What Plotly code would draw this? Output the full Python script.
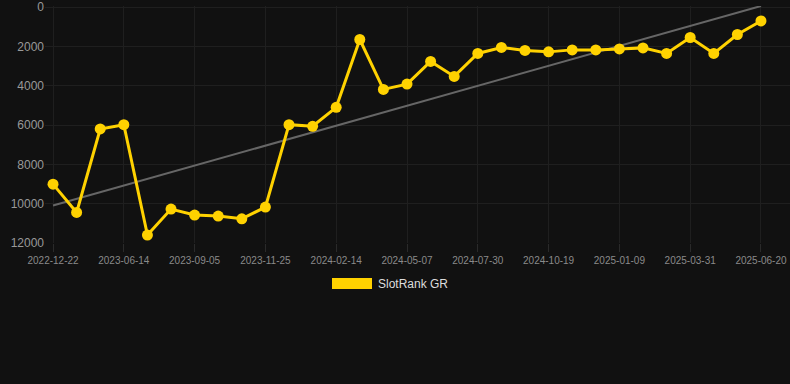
import plotly.graph_objects as go

dates = [
    "2022-12-22", "2023-02-20", "2023-04-17", "2023-06-14", "2023-07-12",
    "2023-08-08", "2023-09-05", "2023-10-02", "2023-10-29", "2023-11-25",
    "2023-12-22", "2024-01-18", "2024-02-14", "2024-03-12", "2024-04-09",
    "2024-05-07", "2024-06-04", "2024-07-02", "2024-07-30", "2024-08-26",
    "2024-09-22", "2024-10-19", "2024-11-15", "2024-12-13", "2025-01-09",
    "2025-02-05", "2025-03-04", "2025-03-31", "2025-04-27", "2025-05-24",
    "2025-06-20",
]
rank = [
    9005, 10447, 6198, 5980, 11594, 10274, 10579, 10630, 10767, 10173,
    5980, 6061, 5096, 1645, 4183, 3914, 2761, 3523, 2355, 2051,
    2203, 2274, 2173, 2173, 2122, 2071, 2355, 1543, 2355, 1391,
    700,
]
trend_x = [dates[0], dates[-1]]
trend_y = [10090, -60]
tick_dates = dates[::3]
y_ticks = [0, 2000, 4000, 6000, 8000, 10000, 12000]

series_name = "SlotRank GR"
gold = "#FFD200"
bg = "#111111"
grid = "#1f1f1f"

fig = go.Figure()
fig.add_trace(go.Scatter(
    x=trend_x, y=trend_y, mode="lines",
    line=dict(color="#666666", width=2), hoverinfo="skip", showlegend=False,
))
fig.add_trace(go.Scatter(
    x=dates, y=rank, mode="lines+markers", name=series_name,
    line=dict(color=gold, width=3),
    marker=dict(color=gold, size=11),
    showlegend=False, cliponaxis=False,
))

fig.update_layout(
    width=790, height=384,
    paper_bgcolor=bg, plot_bgcolor=bg,
    margin=dict(l=45, r=0, t=6, b=141),
    font=dict(family="Liberation Sans, Arial, sans-serif"),
    showlegend=False,
    xaxis=dict(
        type="category", categoryorder="array", categoryarray=dates,
        range=[-0.34, 31.23],
        tickmode="array", tickvals=tick_dates, ticktext=tick_dates,
        showgrid=True, gridcolor=grid, gridwidth=1,
        ticks="outside", ticklen=8, tickcolor="#2a2a2a",
        tickfont=dict(size=10, color="#8a8a8a"),
        showline=False, zeroline=False,
    ),
    yaxis=dict(
        range=[12000, -60],
        tickmode="array", tickvals=y_ticks,
        ticktext=[str(v) for v in y_ticks],
        showgrid=True, gridcolor=grid, gridwidth=1,
        tickfont=dict(size=12, color="#999999"),
        ticks="", showline=False, zeroline=False,
    ),
    shapes=[dict(
        type="rect", xref="paper", yref="paper",
        x0=(332 - 45) / 745, x1=(372 - 45) / 745,
        y0=(384 - 141 - 289) / 237.3, y1=(384 - 141 - 278) / 237.3,
        fillcolor=gold, line=dict(width=0),
    )],
    annotations=[dict(
        xref="paper", yref="paper",
        x=(376 - 45) / 745, y=(384 - 141 - 284) / 237.3,
        xanchor="left", yanchor="middle", showarrow=False,
        text=series_name, font=dict(size=12, color="#dddddd"),
    )],
)

fig.write_html("out.html")
